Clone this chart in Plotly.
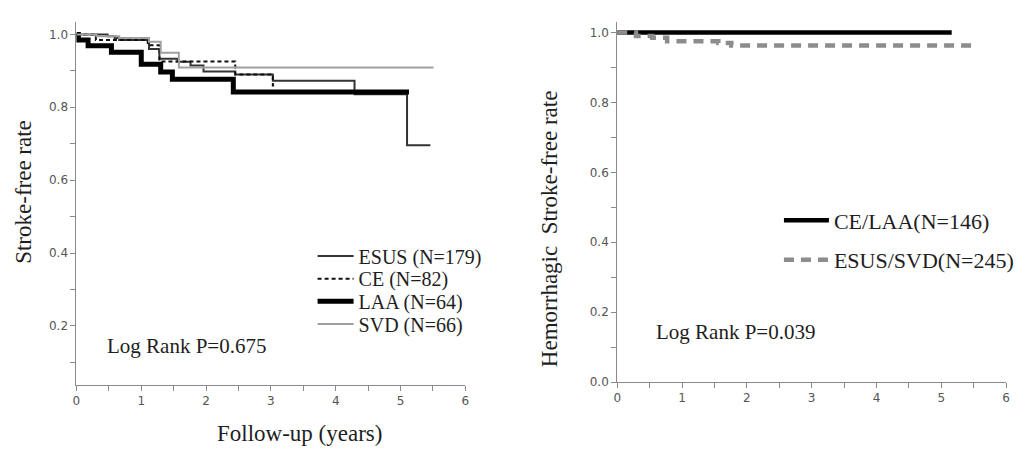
import plotly.graph_objects as go

# ---- Left panel data (overall stroke-free rate) ----
esus_t = [0, 0.48, 0.59, 0.66, 1.12, 1.28, 1.56, 1.76, 1.96, 2.45, 3.03, 4.29, 5.10, 5.46]
esus_s = [1.0, 0.995, 0.99, 0.985, 0.96, 0.933, 0.925, 0.915, 0.898, 0.89, 0.873, 0.836, 0.696, 0.696]
ce_t = [0, 0.30, 1.10, 1.28, 2.45, 3.03, 3.05]
ce_s = [1.0, 0.985, 0.97, 0.926, 0.89, 0.86, 0.86]
laa_t = [0, 0.03, 0.18, 0.54, 1.00, 1.30, 1.48, 2.42, 5.13]
laa_s = [1.0, 0.985, 0.969, 0.951, 0.918, 0.897, 0.877, 0.842, 0.842]
svd_t = [0, 0.31, 0.66, 1.12, 1.30, 1.58, 5.51]
svd_s = [1.0, 0.995, 0.99, 0.98, 0.95, 0.909, 0.909]

# ---- Right panel data (hemorrhagic stroke-free rate) ----
celaa_t = [0, 5.16]
celaa_s = [1.0, 1.0]
esvd_t = [0, 0.29, 0.54, 0.77, 1.56, 1.76, 5.50]
esvd_s = [1.0, 0.99, 0.985, 0.975, 0.97, 0.9625, 0.9625]

left_names = ["ESUS (N=179)", "CE (N=82)", "LAA (N=64)", "SVD (N=66)"]
right_names = ["CE/LAA(N=146)", "ESUS/SVD(N=245)"]
x_ticks = [0, 1, 2, 3, 4, 5, 6]
left_y_ticks = [0.2, 0.4, 0.6, 0.8, 1.0]
right_y_ticks = [0.0, 0.2, 0.4, 0.6, 0.8, 1.0]

W, H = 1030, 453
SERIF = "Liberation Serif"
TXT = "#1e1e1e"
TICKF = dict(family="DejaVu Sans", size=12, color="#555")

fig = go.Figure()
left_styles = [
    dict(color="#333333", width=2),
    dict(color="#111111", width=2, dash="4px,3px"),
    dict(color="#000000", width=5),
    dict(color="#a0a0a0", width=2),
]
left_legends = ["legend", "legend3", "legend4", "legend5"]
for (t, s), name, ln, lg in zip([(esus_t, esus_s), (ce_t, ce_s), (laa_t, laa_s), (svd_t, svd_s)],
                                left_names, left_styles, left_legends):
    fig.add_trace(go.Scatter(x=t, y=s, mode="lines", line=dict(shape="hv", **ln), name=name,
                             xaxis="x", yaxis="y", legend=lg))

fig.add_trace(go.Scatter(x=celaa_t, y=celaa_s, mode="lines", line=dict(shape="hv", color="#000", width=4.5),
                         name=right_names[0], xaxis="x2", yaxis="y2", legend="legend2"))
fig.add_trace(go.Scatter(x=esvd_t, y=esvd_s, mode="lines",
                         line=dict(shape="hv", color="#8c8c8c", width=4.5, dash="10px,7px"),
                         name=right_names[1], xaxis="x2", yaxis="y2", legend="legend6"))

axis_common = dict(showgrid=False, zeroline=False, showline=True, linecolor="#8a8a8a", linewidth=1,
                   ticks="outside", tickcolor="#8a8a8a", ticklen=5, tickfont=TICKF)
minor_x = dict(ticks="outside", dtick=0.5, tick0=0, ticklen=5, tickcolor="#8a8a8a")
minor_y = dict(ticks="outside", dtick=0.1, tick0=0, ticklen=5, tickcolor="#8a8a8a")


def leg(xpx, ypx, iw, size):
    return dict(x=xpx / W, y=1 - ypx / H, xanchor="left", yanchor="middle", bgcolor="rgba(0,0,0,0)",
                font=dict(family=SERIF, size=size, color=TXT), itemwidth=iw, borderwidth=0)


def note(text, xpx, ypx, size, anchor="left", angle=0):
    return dict(text=text, x=xpx / W, y=1 - ypx / H, xref="paper", yref="paper", xanchor=anchor,
                yanchor="middle", showarrow=False, textangle=angle,
                font=dict(family=SERIF, size=size, color=TXT))


fig.update_layout(
    width=W, height=H, margin=dict(l=0, r=0, t=0, b=0),
    paper_bgcolor="white", plot_bgcolor="white", showlegend=True,
    xaxis=dict(domain=[73 / W, 465 / W], range=[0, 6], tickvals=x_ticks, anchor="y", minor=minor_x,
               **axis_common),
    yaxis=dict(domain=[(H - 391) / H, (H - 22) / H], range=[0.038, 1.035], tickvals=left_y_ticks,
               tickformat=".1f", anchor="x", minor=minor_y, **axis_common),
    xaxis2=dict(domain=[618 / W, 1010 / W], range=[0, 6], tickvals=x_ticks, anchor="y2", minor=minor_x,
                **axis_common),
    yaxis2=dict(domain=[(H - 388) / H, (H - 22) / H], range=[0, 1.031], tickvals=right_y_ticks,
                tickformat=".1f", anchor="x2", minor=minor_y, **axis_common),
    legend=leg(311, 260, 36, 20),
    legend3=leg(311, 283, 36, 20),
    legend4=leg(311, 306, 36, 20),
    legend5=leg(311, 329, 36, 20),
    legend2=leg(781, 224, 45, 22),
    legend6=leg(781, 264, 45, 22),
    annotations=[
        note("Log Rank P=0.675", 102, 351, 21),
        note("Log Rank P=0.039", 655, 337, 21),
        note("Follow-up (years)", 298, 440, 23, anchor="center"),
        note("Stroke-free rate", 20, 195, 23, anchor="center", angle=-90),
        note("Hemorrhagic  Stroke-free rate", 550, 232, 23, anchor="center", angle=-90),
    ],
)

fig.write_html("out.html", config={"displayModeBar": False},
               post_script="document.body.style.margin='0';document.body.style.overflow='hidden';")
